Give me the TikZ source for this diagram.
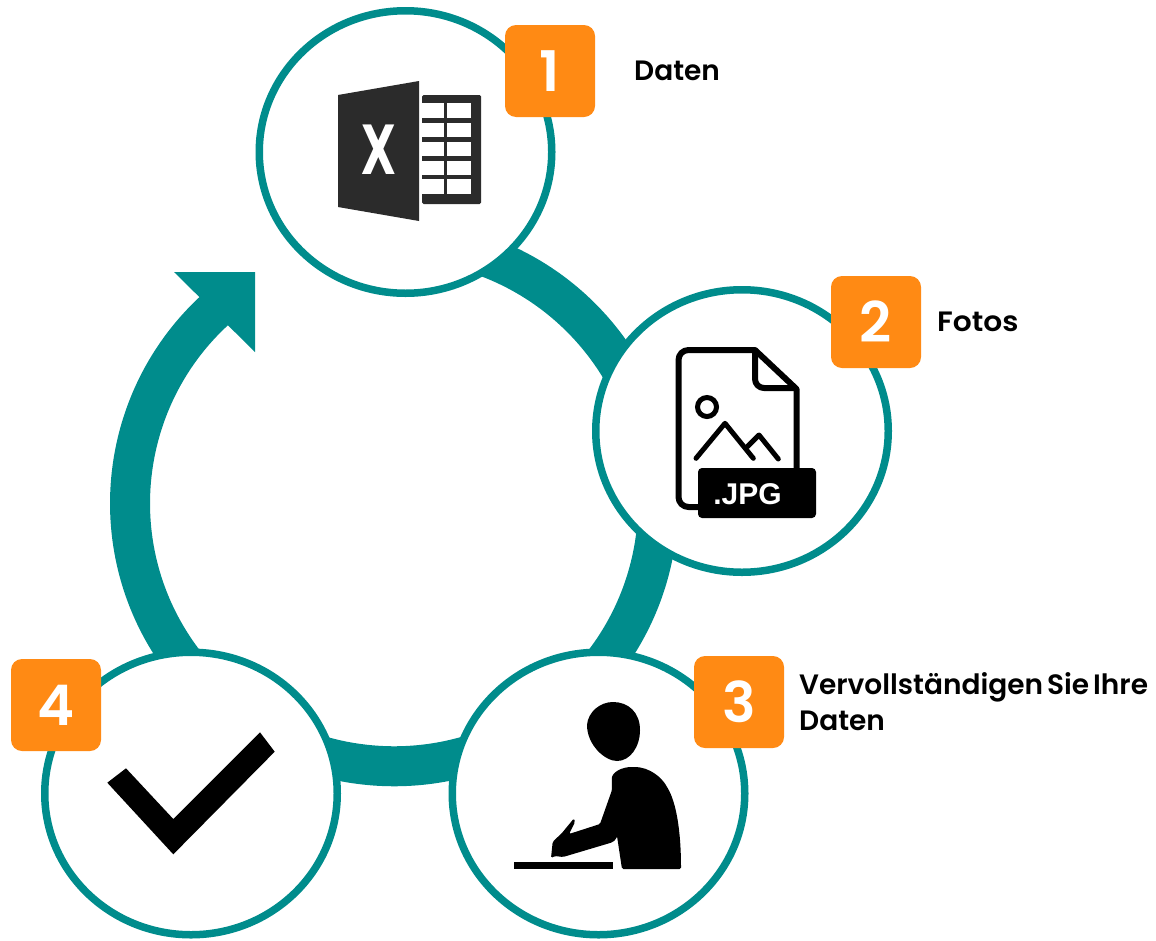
\documentclass[tikz,border=0pt]{standalone}
\usepackage{fontspec}
\usetikzlibrary{shapes.geometric}
\setmainfont{Poppins}[BoldFont={Poppins SemiBold},WordSpace=0.6]
\newfontfamily\iconfont{Liberation Sans}
\newfontfamily\xfont{DejaVu Sans}
\newfontfamily\digitfont{Poppins SemiBold}
\definecolor{teal1}{HTML}{008C8C}
\definecolor{orange1}{HTML}{FF8A14}
\definecolor{icon1}{HTML}{2B2B2B}
\tikzset{
  ringc/.style={ellipse,draw=teal1,line width=7.5pt,fill=white,minimum width=292.5pt,minimum height=282.5pt,inner sep=0pt},
  badge/.style={fill=orange1,rounded corners=11pt,minimum width=90pt,minimum height=92pt,inner sep=0pt,text=white,font=\digitfont\fontsize{56}{56}\selectfont},
  lbl/.style={anchor=base west,inner sep=0pt,font=\bfseries\fontsize{28}{36}\selectfont,align=left},
  ringline/.style={draw=teal1,line width=40pt},
}
\begin{document}
\begin{tikzpicture}[x=1pt,y=-1pt]
\useasboundingbox (0,0) rectangle (1156,940);
% ring
\coordinate (ringstart) at (231.5,296);
\draw[ringline] (ringstart) arc[start angle=128,end angle=435,x radius=264pt,y radius=263pt];
\fill[teal1] (174,272) -- (255,272) -- (255,352) -- cycle;
% circles
\node[ringc] (c1) at (405.5,152) {};
\node[ringc] (c2) at (742,431) {};
\node[ringc] (c3) at (598.5,793.5) {};
\node[ringc] (c4) at (191,793.5) {};
% excel icon
\fill[icon1] (338,95) -- (419,81) -- (419,221) -- (338,207) -- cycle;
\node[text=white,inner sep=0pt] at (378.5,150) {\xfont\bfseries\fontsize{68}{68}\selectfont\scalebox{0.66}[1]{X}};
\fill[icon1,rounded corners=1.5pt] (422,95) -- (481,95) -- (481,204) -- (422,204) -- cycle;
\foreach \ya/\yb in {103/118,123/137,142/156,161/175,179/194}{
  \fill[white] (422,\ya) rectangle (444,\yb);
  \fill[white] (447,\ya) rectangle (471,\yb);
}
% jpg icon
\draw[black,line width=6pt,line join=round] (700,507) -- (688.5,507) arc[start angle=270,end angle=180,radius=10pt] -- (678.5,360) arc[start angle=180,end angle=90,radius=10pt] -- (755,350) -- (796.5,389) -- (796.5,472);
\draw[black,line width=6pt,line join=round,rounded corners=9pt] (755,350) -- (755,388) -- (796.5,388);
\draw[black,line width=5pt] (707,407) circle[radius=9.5pt];
\draw[black,line width=5pt,line cap=round,line join=round] (696,458.3) -- (725,423.3) -- (753.3,458.3);
\draw[black,line width=5pt,line cap=round,line join=round] (747.3,446.7) -- (759,435) -- (778.3,459);
\fill[black,rounded corners=4pt] (698,468) rectangle (816,518);
\node[text=white,inner sep=0pt] at (747.5,494) {\iconfont\bfseries\fontsize{30}{30}\selectfont .JPG};
% person
\fill[black] (587,725) .. controls (588,712) and (600,702) .. (613,702) .. controls (628,702) and (640,712) .. (640,730) .. controls (640,747) and (630,761) .. (617,761) .. controls (605,761) and (587,745) .. (587,725) -- cycle;
\fill[black,rounded corners=1.5pt] (611.7,780) .. controls (612,772) and (622,767) .. (633,767) .. controls (650,767) and (662,778) .. (667,787) .. controls (676,802) and (681,830) .. (681,869) -- (622,869) -- (617,836) .. controls (616,840) and (613,842) .. (610,843) -- (563,857) -- (555,856) -- (551,858) -- (552.7,841.7) -- (561.7,833.3) -- (574,818.3) -- (575,822) -- (569,834) -- (600,824) -- (612,790) -- cycle;
\fill[black] (514,862) rectangle (613,869);
% check
\fill[black] (107.3,782.7) -- (126,768.3) -- (173.3,819) -- (260,732.3) -- (274.7,751.7) -- (173.3,854.3) -- cycle;
% badges
\node[badge] (b1) at (550,71) {1};
\node[badge] (b2) at (876,322) {2};
\node[badge] (b3) at (739,702) {3};
\node[badge] (b4) at (56,705) {4};
% labels
\node[lbl] (t1) at (634,80) {Daten};
\node[lbl,xscale=1.06] (t2) at (937,331) {Fotos};
\node[lbl] (t3) at (799,730) {Vervollständigen Sie Ihre\\Daten};
\end{tikzpicture}
\end{document}
